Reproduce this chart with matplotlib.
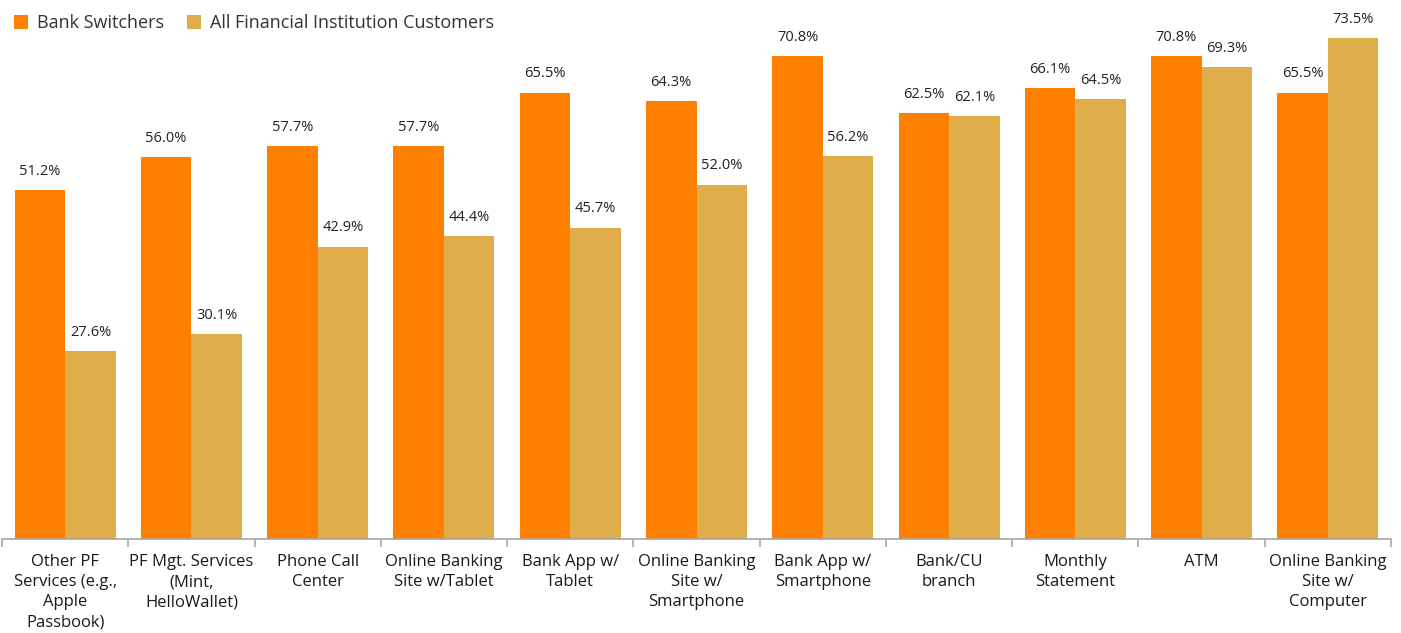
import numpy as np
import matplotlib
matplotlib.use('Agg')
import matplotlib.pyplot as plt
import matplotlib.ticker as mticker

plt.rcParams['font.family'] = ['Open Sans', 'DejaVu Sans']

categories = ['Other PF\nServices (e.g.,\nApple\nPassbook)',
              'PF Mgt. Services\n(Mint,\nHelloWallet)',
              'Phone Call\nCenter',
              'Online Banking\nSite w/Tablet',
              'Bank App w/\nTablet',
              'Online Banking\nSite w/\nSmartphone',
              'Bank App w/\nSmartphone',
              'Bank/CU\nbranch',
              'Monthly\nStatement',
              'ATM',
              'Online Banking\nSite w/\nComputer']
switchers = [51.2, 56.0, 57.7, 57.7, 65.5, 64.3, 70.8, 62.5, 66.1, 70.8, 65.5]
all_customers = [27.6, 30.1, 42.9, 44.4, 45.7, 52.0, 56.2, 62.1, 64.5, 69.3, 73.5]
series_names = ['Bank Switchers', 'All Financial Institution Customers']
colors = ['#FF7F00', '#DFAD4A']

W, H = 1401, 633
fig = plt.figure(figsize=(W / 100, H / 100), dpi=100)
# axes placed in pixel terms: baseline at y=539, 6.816 px per percent
left, right = 2, 1391
base = 539
ymax = 75
ppu = 6.816
ax = fig.add_axes([left / W, (H - base) / H, (right - left) / W, ymax * ppu / H])

x = np.arange(len(categories))
bw = 0.4
b1 = ax.bar(x - bw / 2, switchers, bw, color=colors[0], label=series_names[0])
b2 = ax.bar(x + bw / 2, all_customers, bw, color=colors[1], label=series_names[1])

for bars in (b1, b2):
    ax.bar_label(bars, labels=['%.1f%%' % v for v in bars.datavalues],
                 padding=8, fontsize=10.5, color='#222222')

ax.set_xlim(-0.5, len(categories) - 0.5)
ax.set_ylim(0, ymax)

for s in ['top', 'right', 'left']:
    ax.spines[s].set_visible(False)
ax.spines['bottom'].set_color('#A6A6A6')
ax.spines['bottom'].set_linewidth(1.2)
ax.set_yticks([])

ax.set_xticks(x)
ax.set_xticklabels(categories, fontsize=12, color='#1a1a1a', linespacing=1.33, va='top')
ax.tick_params(axis='x', which='major', length=0, pad=11)
ax.xaxis.set_minor_locator(mticker.FixedLocator(np.arange(-0.5, len(categories), 1.0)))
ax.tick_params(axis='x', which='minor', length=6, width=1.2, color='#A6A6A6')

fig.legend(loc='upper left', bbox_to_anchor=(7 / W, 1 - 7 / H), ncol=2, frameon=False,
           fontsize=13, handlelength=0.75, handleheight=0.75, handletextpad=0.5,
           columnspacing=1.3, borderaxespad=0, labelcolor='#333333')

fig.savefig('out.png', dpi=100)
